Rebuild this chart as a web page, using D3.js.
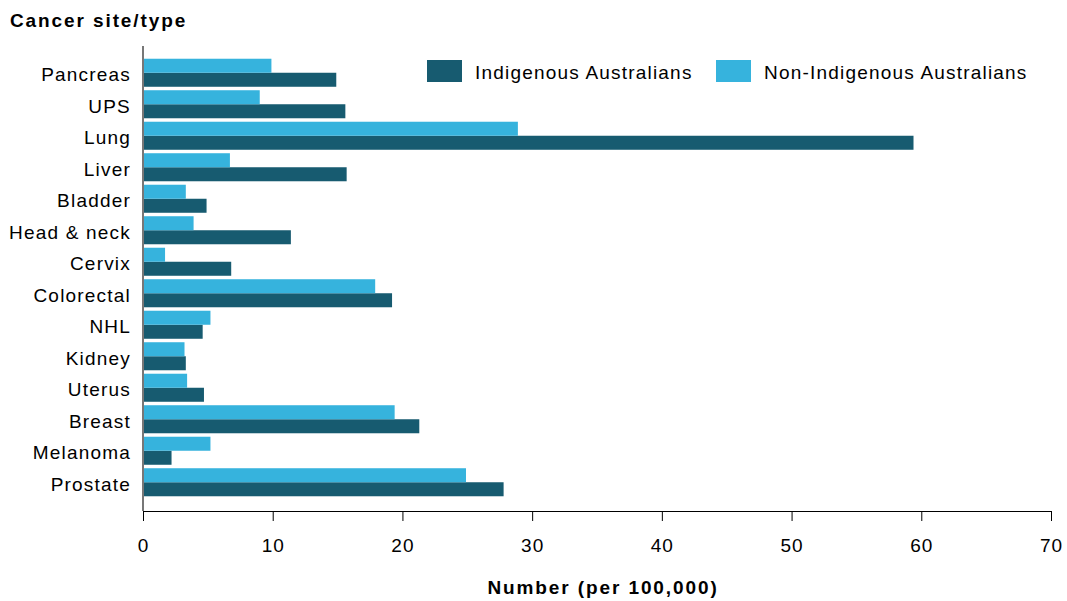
<!DOCTYPE html>
<html lang="en">
<head>
<meta charset="utf-8">
<title>Cancer incidence</title>
<script src="https://cdn.jsdelivr.net/npm/d3@7"></script>
<style>
  body { margin: 0; background: #fff; }
  text { font-family: "Liberation Sans", Arial, sans-serif; }
  .xaxis path, .xaxis line { stroke: #000; }
  .xaxis text { font-size: 19px; fill: #000; letter-spacing: 1px; }
  .yaxis path { stroke: #777; stroke-width: 2px; }
  .yaxis line { display: none; }
  .yaxis text { font-size: 19px; fill: #000; letter-spacing: 1.2px; }
</style>
</head>
<body>
<script>
var categories = ["Pancreas", "UPS", "Lung", "Liver", "Bladder", "Head & neck", "Cervix",
  "Colorectal", "NHL", "Kidney", "Uterus", "Breast", "Melanoma", "Prostate"];
var indigenous = [14.9, 15.6, 59.4, 15.7, 4.9, 11.4, 6.8, 19.2, 4.6, 3.3, 4.7, 21.3, 2.2, 27.8];
var nonIndigenous = [9.9, 9.0, 28.9, 6.7, 3.3, 3.9, 1.7, 17.9, 5.2, 3.2, 3.4, 19.4, 5.2, 24.9];
var xTicks = [0, 10, 20, 30, 40, 50, 60, 70];
var seriesNames = ["Indigenous Australians", "Non-Indigenous Australians"];
var colours = ["#175b70", "#36b3dd"];

var w = 1067, h = 601;
var left = 143, right = 1051;
var bandTop = 57, bandBottom = 498, axisY = 511;

var svg = d3.select("body").append("svg").attr("width", w).attr("height", h);

var x = d3.scaleLinear().domain([0, 70]).range([left, right]);
var y = d3.scaleBand().domain(categories).range([bandTop, bandBottom]).paddingInner(0.11).paddingOuter(0.055);
var sub = d3.scaleBand().domain([1, 0]).range([0, y.bandwidth()]);

// bars
var data = [];
categories.forEach(function(c, i) {
  data.push({cat: c, s: 0, v: indigenous[i]});
  data.push({cat: c, s: 1, v: nonIndigenous[i]});
});
svg.append("g").selectAll("rect").data(data).enter().append("rect")
  .attr("x", x(0))
  .attr("y", function(d) { return y(d.cat) + sub(d.s); })
  .attr("width", function(d) { return x(d.v) - x(0); })
  .attr("height", sub.bandwidth())
  .attr("fill", function(d) { return colours[d.s]; });

// x axis
var xAxis = d3.axisBottom(x).tickValues(xTicks).tickSize(10).tickPadding(18).tickSizeOuter(10);
svg.append("g").attr("class", "xaxis").attr("transform", "translate(0," + axisY + ")").call(xAxis);

// y axis
var yAxis = d3.axisLeft(y).tickSize(0).tickPadding(12);
var yg = svg.append("g").attr("class", "yaxis").attr("transform", "translate(" + left + ",0)").call(yAxis);
yg.select(".domain").attr("d", "M0,46V" + axisY);
yg.selectAll(".tick text").attr("dy", "0.45em");

// titles
svg.append("text").attr("x", 10).attr("y", 27).attr("font-size", 19).attr("font-weight", "bold")
  .attr("letter-spacing", 1.9).text("Cancer site/type");
svg.append("text").attr("x", (left + right) / 2 + 6).attr("y", 594).attr("text-anchor", "middle")
  .attr("font-size", 19).attr("font-weight", "bold").attr("letter-spacing", 1.9).text("Number (per 100,000)");

// legend
var legendX = [427, 716];
var lg = svg.append("g").selectAll("g").data(seriesNames).enter().append("g")
  .attr("transform", function(d, i) { return "translate(" + legendX[i] + ",60)"; });
lg.append("rect").attr("width", 35).attr("height", 22).attr("fill", function(d, i) { return colours[i]; });
lg.append("text").attr("x", 48).attr("y", 19).attr("font-size", 19).attr("letter-spacing", 1.2)
  .text(function(d) { return d; });
</script>
</body>
</html>
